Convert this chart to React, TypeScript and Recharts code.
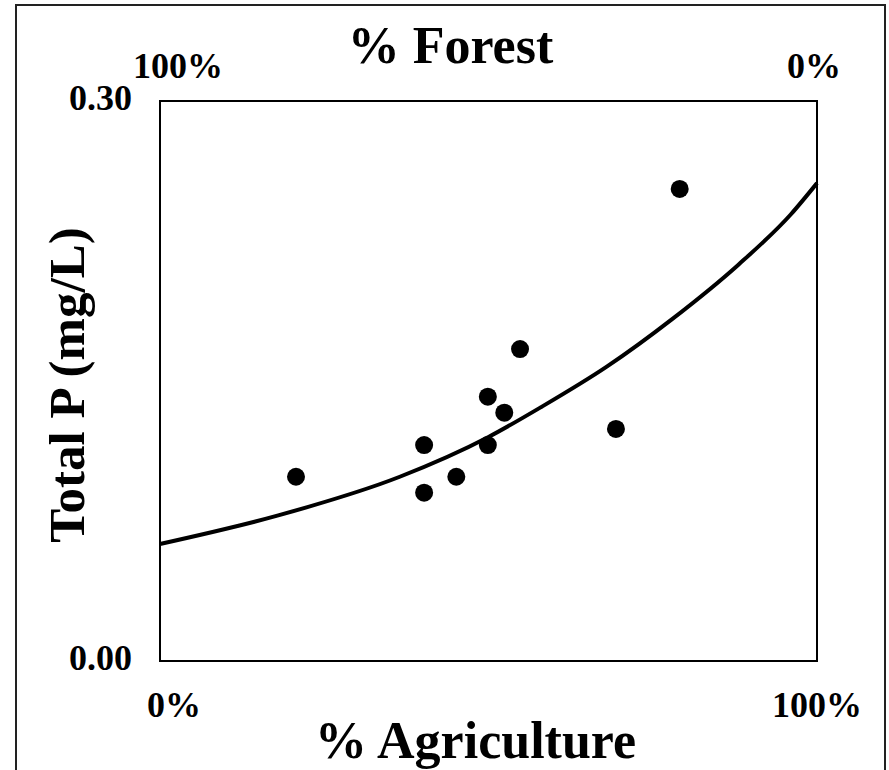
// App.tsx
// Total P vs % Agriculture (top axis: % Forest), scatter + trend curve (Recharts)

import {
  ComposedChart,
  Scatter,
  Line,
  XAxis,
  YAxis,
  ReferenceArea,
} from 'recharts'

const agriculturePct = [20.7, 40.2, 40.2, 45.1, 49.9, 49.9, 52.4, 54.8, 69.4, 79.1]
const totalP = [0.0987, 0.1157, 0.0902, 0.0987, 0.1157, 0.1416, 0.133, 0.1671, 0.1243, 0.2529]

// trend curve
const trendX = [0, 18, 36.5, 50, 58, 68, 78, 88, 96, 100]
const trendY = [0.0627, 0.078, 0.0987, 0.12, 0.136, 0.1577, 0.1833, 0.2122, 0.2392, 0.256]

const xTicks = [0, 100]
const yTicks = [0, 0.3]

const points = agriculturePct.map((x, i) => ({ x, y: totalP[i] }))
const trend = trendX.map((x, i) => ({ x, y: trendY[i] }))

const FONT = "'Liberation Serif', 'Tinos', 'DejaVu Serif', serif"
const txt = { fontFamily: FONT, fontWeight: 700 }

function BottomTick({ x, y, payload }: any) {
  const dx = payload.value === 0 ? 14 : 0
  return (
    <text x={x + dx} y={y + 56} textAnchor="middle" style={txt} fontSize={36} fill="#000">
      {payload.value}%
    </text>
  )
}

function TopTick({ x, y, payload }: any) {
  const dx = payload.value === 100 ? 18 : -3
  return (
    <text x={x + dx} y={y - 23} textAnchor="middle" style={txt} fontSize={36} fill="#000">
      {payload.value}%
    </text>
  )
}

function LeftTick({ x, y, payload }: any) {
  return (
    <text x={x - 28} y={y + 9} textAnchor="end" style={txt} fontSize={36} fill="#000">
      {Number(payload.value).toFixed(2)}
    </text>
  )
}

export default function App() {
  return (
    <div style={{ position: 'absolute', left: 0, top: 0, width: 889, height: 770, overflow: 'hidden', background: '#fff' }}>
      <div
        style={{
          position: 'absolute',
          left: 15,
          top: 4,
          width: 871,
          height: 820,
          border: '2px solid #222',
          boxSizing: 'border-box',
        }}
      />
      <ComposedChart width={889} height={770} margin={{ left: 60, right: 72, top: 51, bottom: 59 }}>
        <XAxis
          dataKey="x"
          type="number"
          domain={[0, 100]}
          ticks={xTicks}
          height={50}
          axisLine={false}
          tickLine={false}
          tickSize={0}
          tickMargin={0}
          tick={<BottomTick />}
          interval={0}
          label={{
            content: ({ viewBox }: any) => (
              <text
                x={viewBox.x + viewBox.width / 2 - 13}
                y={758}
                textAnchor="middle"
                style={txt}
                fontSize={52}
                fill="#000"
              >
                % Agriculture
              </text>
            ),
          }}
        />
        <XAxis
          xAxisId="top"
          orientation="top"
          dataKey="x"
          type="number"
          domain={[0, 100]}
          reversed
          ticks={xTicks}
          height={50}
          axisLine={false}
          tickLine={false}
          tickSize={0}
          tickMargin={0}
          tick={<TopTick />}
          interval={0}
          label={{
            content: ({ viewBox }: any) => (
              <text
                x={viewBox.x + viewBox.width / 2 - 38}
                y={63}
                textAnchor="middle"
                style={txt}
                fontSize={52}
                fill="#000"
              >
                % Forest
              </text>
            ),
          }}
        />
        <YAxis
          type="number"
          domain={[0, 0.3]}
          ticks={yTicks}
          width={100}
          axisLine={false}
          tickLine={false}
          tickSize={0}
          tickMargin={0}
          tick={<LeftTick />}
          interval={0}
          label={{
            content: ({ viewBox }: any) => {
              const cy = viewBox.y + viewBox.height / 2 + 4
              return (
                <text
                  x={84}
                  y={cy}
                  transform={`rotate(-90, 84, ${cy})`}
                  textAnchor="middle"
                  style={txt}
                  fontSize={51}
                  fill="#000"
                >
                  Total P (mg/L)
                </text>
              )
            },
          }}
        />
        <ReferenceArea x1={0} x2={100} y1={0} y2={0.3} fill="none" stroke="#000" strokeWidth={2} />
        {/* invisible series so the top (% Forest) axis gets drawn */}
        <Scatter xAxisId="top" data={trend} dataKey="y" shape={() => <g />} legendType="none" isAnimationActive={false} />
        <Scatter data={points} dataKey="y" fill="#000" shape={(p: any) => <circle cx={p.cx} cy={p.cy} r={9} fill="#000" />} isAnimationActive={false} />
        <Line data={trend} dataKey="y" type="monotone" stroke="#000" strokeWidth={4} dot={false} activeDot={false} isAnimationActive={false} />
      </ComposedChart>
    </div>
  )
}
